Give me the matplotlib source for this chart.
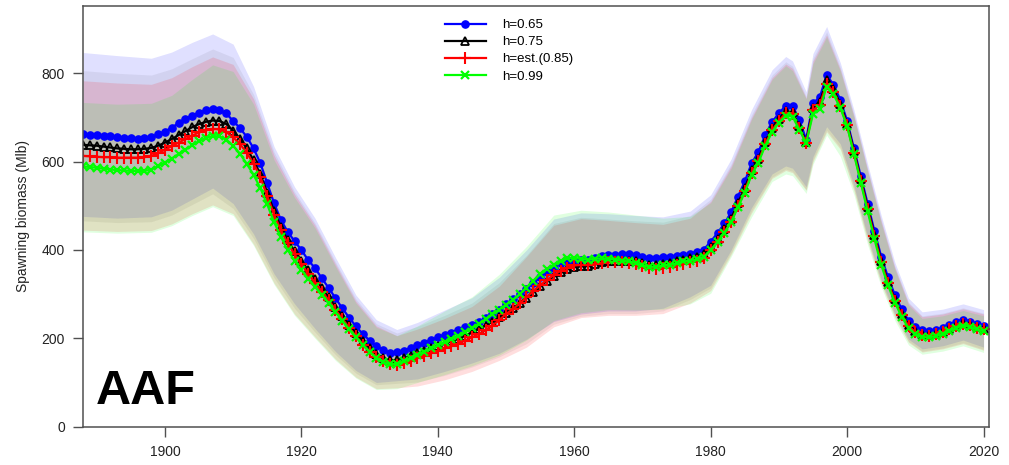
import numpy as np
import matplotlib
matplotlib.use('Agg')
import matplotlib.pyplot as plt

plt.rcParams['font.family'] = ['Liberation Sans', 'DejaVu Sans']

years = list(range(1888, 2021))

# spawning biomass (Mlb) by year, one list per steepness run
b065 = [662, 661, 660, 659, 657, 655, 654, 653, 652, 653,
        655, 662, 668, 677, 687, 696, 704, 711, 716, 718,
        716, 709, 692, 676, 656, 630, 596, 551, 506, 468,
        441, 420, 400, 377, 359, 336, 314, 291, 268, 247,
        227, 210, 195, 183, 173, 167, 168, 172, 178, 184,
        190, 196, 202, 208, 213, 219, 225, 231, 238, 246,
        255, 265, 278, 288, 300, 312, 325, 338, 350, 360,
        370, 376, 376, 377, 378, 382, 386, 388, 389, 390,
        391, 389, 385, 382, 381, 383, 385, 386, 389, 392,
        396, 401, 419, 438, 460, 485, 521, 555, 596, 622,
        660, 690, 709, 727, 727, 694, 650, 732, 746, 796,
        774, 740, 692, 630, 568, 505, 443, 385, 338, 298,
        266, 240, 226, 218, 216, 218, 223, 230, 237, 242,
        238, 232, 228]
b075 = [638, 637, 636, 634, 632, 630, 629, 628, 628, 629,
        631, 636, 643, 651, 660, 669, 678, 685, 690, 693,
        692, 685, 670, 652, 630, 603, 571, 530, 488, 452,
        422, 398, 376, 354, 335, 315, 293, 272, 251, 231,
        211, 193, 177, 165, 155, 150, 151, 155, 160, 166,
        172, 177, 182, 188, 193, 199, 206, 213, 221, 229,
        238, 248, 258, 268, 280, 292, 305, 318, 330, 340,
        350, 357, 362, 363, 364, 368, 372, 374, 375, 376,
        376, 374, 370, 366, 365, 368, 371, 374, 377, 381,
        385, 391, 407, 425, 447, 471, 506, 540, 580, 607,
        645, 676, 696, 714, 712, 680, 645, 722, 735, 784,
        764, 731, 686, 624, 560, 497, 435, 376, 328, 288,
        256, 230, 216, 209, 207, 210, 215, 222, 229, 234,
        231, 225, 221]
b085 = [613, 612, 611, 610, 610, 609, 609, 609, 609, 610,
        613, 619, 627, 635, 643, 651, 659, 666, 671, 674,
        673, 667, 655, 640, 620, 595, 565, 522, 480, 445,
        415, 390, 368, 346, 326, 306, 286, 265, 244, 224,
        205, 186, 170, 158, 148, 143, 140, 144, 149, 155,
        161, 166, 171, 177, 182, 188, 195, 202, 210, 218,
        229, 241, 255, 266, 279, 293, 307, 320, 332, 343,
        353, 360, 365, 366, 366, 369, 371, 372, 372, 372,
        371, 368, 364, 359, 357, 360, 362, 365, 369, 372,
        376, 382, 399, 418, 440, 464, 500, 534, 574, 602,
        640, 671, 692, 710, 707, 675, 642, 716, 729, 776,
        758, 726, 682, 620, 556, 493, 431, 372, 325, 285,
        253, 228, 214, 208, 206, 209, 214, 221, 228, 233,
        230, 224, 220]
b099 = [589, 588, 586, 584, 582, 581, 580, 579, 579, 579,
        582, 590, 598, 607, 617, 627, 637, 646, 653, 658,
        657, 650, 636, 618, 595, 570, 540, 503, 463, 430,
        400, 376, 355, 335, 317, 298, 279, 260, 240, 220,
        203, 185, 169, 156, 146, 141, 142, 148, 155, 163,
        170, 177, 184, 191, 198, 206, 214, 223, 233, 243,
        254, 265, 276, 287, 300, 315, 330, 345, 357, 367,
        376, 382, 382, 380, 378, 380, 381, 380, 378, 376,
        374, 371, 366, 362, 362, 365, 367, 370, 374, 376,
        379, 385, 400, 418, 439, 463, 497, 530, 570, 598,
        636, 667, 688, 704, 702, 672, 642, 708, 718, 770,
        752, 722, 680, 617, 552, 488, 425, 366, 320, 281,
        249, 223, 209, 203, 202, 205, 210, 217, 224, 229,
        226, 220, 216]

# interval bands (upper / lower), read at these years
band_years = [1888, 1893, 1898, 1901, 1904, 1907, 1910, 1913, 1916, 1919,
              1922, 1925, 1928, 1931, 1934, 1937, 1941, 1945, 1949, 1953,
              1957, 1961, 1965, 1969, 1973, 1977, 1980, 1983, 1986, 1989,
              1991, 1992, 1994, 1995, 1997, 1999, 2001, 2003, 2005, 2007,
              2009, 2011, 2014, 2017, 2020]
up065 = [847, 840, 834, 848, 870, 889, 866, 770, 634, 543,
         472, 383, 298, 242, 220, 236, 264, 292, 338, 400,
         470, 484, 482, 478, 475, 488, 525, 606, 718, 808,
         838, 828, 758, 845, 906, 824, 717, 595, 478, 372,
         291, 260, 266, 278, 265]
lo065 = [476, 472, 475, 490, 515, 540, 505, 436, 346, 278,
         222, 170, 127, 100, 104, 108, 125, 144, 166, 198,
         238, 255, 262, 262, 268, 294, 320, 400, 496, 572,
         590, 585, 543, 611, 679, 640, 545, 430, 332, 255,
         198, 176, 183, 196, 180]
up075 = [806, 800, 796, 810, 833, 855, 836, 752, 622, 532,
         461, 373, 289, 233, 212, 227, 252, 280, 326, 388,
         460, 474, 470, 466, 463, 478, 515, 595, 706, 796,
         826, 816, 748, 834, 894, 814, 708, 586, 469, 363,
         282, 251, 257, 269, 257]
lo075 = [466, 462, 464, 479, 503, 527, 494, 426, 337, 268,
         214, 163, 121, 95, 98, 101, 116, 135, 158, 188,
         232, 250, 256, 256, 262, 288, 314, 394, 489, 565,
         583, 578, 537, 604, 671, 632, 538, 424, 326, 250,
         193, 171, 178, 190, 175]
up085 = [783, 778, 775, 790, 815, 837, 820, 742, 614, 526,
         456, 368, 284, 228, 206, 221, 245, 272, 318, 385,
         456, 471, 467, 462, 458, 472, 510, 590, 700, 790,
         821, 811, 744, 828, 887, 809, 704, 582, 465, 360,
         279, 249, 255, 267, 255]
lo085 = [445, 442, 444, 459, 482, 502, 482, 413, 325, 255,
         203, 153, 112, 86, 88, 92, 106, 125, 150, 180,
         226, 247, 252, 252, 256, 280, 308, 390, 484, 562,
         580, 575, 535, 600, 667, 628, 534, 420, 323, 247,
         191, 169, 176, 188, 173]
up099 = [734, 730, 732, 750, 786, 819, 804, 730, 604, 519,
         450, 363, 280, 225, 206, 228, 262, 294, 345, 408,
         479, 490, 486, 479, 472, 476, 507, 585, 696, 786,
         817, 806, 742, 822, 882, 805, 700, 578, 460, 356,
         275, 245, 251, 263, 251]
lo099 = [441, 438, 440, 455, 478, 498, 478, 410, 322, 252,
         200, 150, 110, 84, 86, 100, 118, 138, 162, 196,
         240, 258, 265, 264, 266, 278, 302, 385, 475, 555,
         572, 568, 528, 594, 660, 612, 525, 412, 316, 240,
         185, 164, 171, 183, 168]

labels = ['h=0.65', 'h=0.75', 'h=est.(0.85)', 'h=0.99']

fig = plt.figure(figsize=(10.09, 4.65), dpi=100)
ax = fig.add_axes([0.0823, 0.0824, 0.8979, 0.9054])

# bands first
ax.fill_between(band_years, lo065, up065, color='#0000ff', alpha=0.12, lw=0)
ax.fill_between(band_years, lo075, up075, color='#000000', alpha=0.06, lw=0)
ax.fill_between(band_years, lo085, up085, color='#ff0000', alpha=0.13, lw=0)
ax.fill_between(band_years, lo099, up099, color='#00ff00', alpha=0.12, lw=0)

ax.plot(years, b065, color='#0000ff', lw=1.6, marker='o', ms=5.2, label=labels[0])
ax.plot(years, b075, color='black', lw=1.6, marker='^', ms=5.2, mfc='none', mew=1.3, label=labels[1])
ax.plot(years, b085, color='#ff0000', lw=1.6, marker='+', ms=8, mew=1.5, label=labels[2])
ax.plot(years, b099, color='#00ff00', lw=1.6, marker='x', ms=5.5, mew=1.6, label=labels[3])

ax.set_xlim(1888, 2020.8)
ax.set_ylim(0, 953)
ax.set_xticks(range(1900, 2021, 20))
ax.set_yticks(range(0, 801, 200))
ax.tick_params(axis='both', direction='out', length=7, width=1, colors='#505050',
               labelcolor='#222222', labelsize=10, pad=6)
for s in ax.spines.values():
    s.set_color('#505050')
    s.set_linewidth(1.1)
ax.set_ylabel('Spawning biomass (Mlb)', fontsize=10, color='#222222', labelpad=8)

ax.text(0.0143, 0.054, 'AAF', transform=ax.transAxes, fontsize=35,
        fontweight='bold', va='baseline', ha='left')

ax.legend(loc='upper left', bbox_to_anchor=(445 / 1009, 1 - 19 / 465),
          bbox_transform=fig.transFigure, frameon=False, fontsize=9.5,
          handlelength=3.1, handletextpad=1.2, labelspacing=0.37,
          borderpad=0, borderaxespad=0, numpoints=1)

plt.savefig('out.png', dpi=100)
